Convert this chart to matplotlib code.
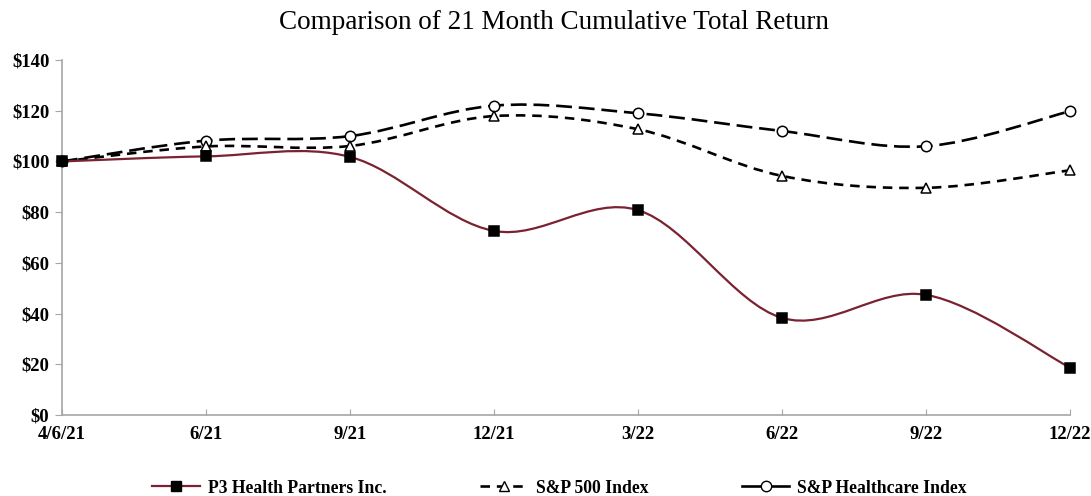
import matplotlib
matplotlib.use("Agg")
import matplotlib.pyplot as plt
from matplotlib.path import Path
from matplotlib.patches import PathPatch
from matplotlib.lines import Line2D
import numpy as np

dates = ["4/6/21", "6/21", "9/21", "12/21", "3/22", "6/22", "9/22", "12/22"]
p3 = [100, 102, 101.8, 72.6, 80.8, 38.3, 47.4, 18.7]
sp500 = [100, 105.9, 106.1, 117.9, 112.7, 94.3, 89.6, 96.5]
health = [100, 108.2, 110.0, 122.0, 119.0, 112.0, 106.0, 119.8]

yticks = [0, 20, 40, 60, 80, 100, 120, 140]


def smooth_path(xs, ys):
    # excel-like smoothed line: catmull-rom as cubic beziers
    pts = np.column_stack([xs, ys]).astype(float)
    n = len(pts)
    verts = [pts[0]]
    codes = [Path.MOVETO]
    for i in range(n - 1):
        p0 = pts[i - 1] if i > 0 else pts[i]
        p1 = pts[i]
        p2 = pts[i + 1]
        p3_ = pts[i + 2] if i + 2 < n else pts[i + 1]
        c1 = p1 + (p2 - p0) / 6.0
        c2 = p2 - (p3_ - p1) / 6.0
        verts += [c1, c2, p2]
        codes += [Path.CURVE4] * 3
    return Path(verts, codes)


fig = plt.figure(figsize=(10.91, 4.96), dpi=100)
ax = fig.add_axes([0.0568, 0.1633, 0.9239, 0.7157])

x = np.arange(len(dates))
serif = "Liberation Serif"

series = [
    (health, "black", 1.9, (0, (6, 2.6)), "o", "white", 7.5),
    (sp500, "black", 1.9, (0, (3.6, 2.6)), "^", "white", 7),
    (p3, "#7a2230", 1.6, "-", "s", "black", 7.5),
]

for ys, col, lw, ls, mk, mfc, ms in series:
    patch = PathPatch(smooth_path(x, ys), fill=False, edgecolor=col,
                      linewidth=lw, linestyle=ls, clip_on=False, zorder=3)
    ax.add_patch(patch)
    ax.plot(x, ys, linestyle="none", marker=mk, markersize=ms,
            markerfacecolor=mfc, markeredgecolor="black",
            markeredgewidth=1.1, clip_on=False, zorder=4)

ax.set_xlim(0, len(dates) - 1)
ax.set_ylim(0, 140)
ax.set_yticks(yticks)
ax.set_yticklabels(["$%d" % v for v in yticks])
ax.set_xticks(x)
ax.set_xticklabels(dates)

for s in ["top", "right"]:
    ax.spines[s].set_visible(False)
for s in ["left", "bottom"]:
    ax.spines[s].set_color("#a6a6a6")
    ax.spines[s].set_linewidth(1.2)

ax.tick_params(axis="y", direction="out", length=5, color="#a6a6a6", pad=4)
ax.tick_params(axis="x", direction="in", length=4, color="#a6a6a6", pad=8)
for lbl in ax.get_xticklabels() + ax.get_yticklabels():
    lbl.set_fontfamily(serif)
    lbl.set_fontweight("bold")
    lbl.set_fontsize(13.5)

fig.text(0.508, 0.955, "Comparison of 21 Month Cumulative Total Return",
         ha="center", va="center", fontfamily=serif, fontsize=19.5)

handles = [
    Line2D([], [], color="#7a2230", linewidth=1.6, marker="s", markersize=7.5,
           markerfacecolor="black", markeredgecolor="black"),
    Line2D([], [], color="black", linewidth=1.9, linestyle=(0, (3.6, 2.6)),
           marker="^", markersize=7, markerfacecolor="white",
           markeredgecolor="black"),
    Line2D([], [], color="black", linewidth=1.9, linestyle="-",
           marker="o", markersize=7.5, markerfacecolor="white",
           markeredgecolor="black"),
]
labels = ["P3 Health Partners Inc.", "S&P 500 Index", "S&P Healthcare Index"]
fig.legend(handles, labels, loc="center", bbox_to_anchor=(0.513, 0.016),
           ncol=3, frameon=False, handlelength=2.7, handletextpad=0.45,
           columnspacing=5.3,
           prop={"family": serif, "weight": "bold", "size": 12.7})

fig.savefig("out.png", dpi=100)
